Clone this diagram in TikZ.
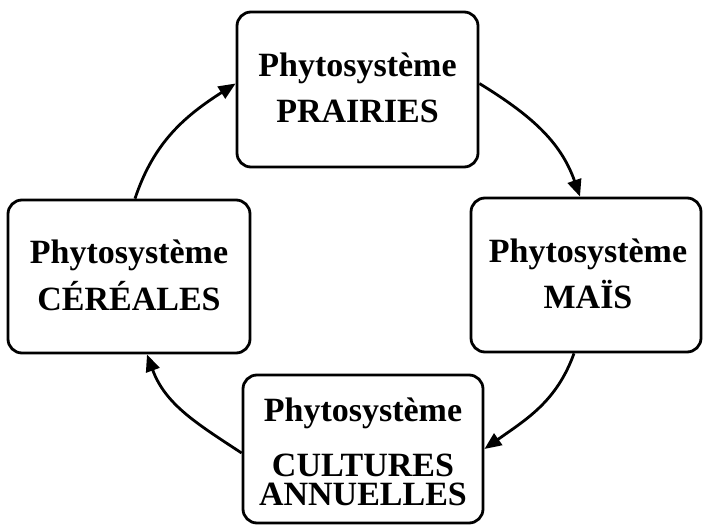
\documentclass[tikz,border=0pt]{standalone}
\usepackage{fontspec}
\setmainfont{Liberation Serif}
\usetikzlibrary{arrows.meta}
\begin{document}
\begin{tikzpicture}[
  box/.style={draw, line width=2.8pt, rounded corners=14pt, inner sep=0pt},
  lbl/.style={anchor=base, inner sep=0pt, font=\fontsize{34}{40}\selectfont\bfseries},
  flow/.style={line width=2.8pt, -{Triangle[length=17pt,width=14pt]}}]
\useasboundingbox (0pt,0pt) rectangle (703pt,-526pt);
% boxes
\node[box, minimum width=241pt, minimum height=155pt] (top) at (357.5pt,-89.5pt) {};
\node[box, minimum width=230pt, minimum height=154pt] (right) at (586pt,-275pt) {};
\node[box, minimum width=240pt, minimum height=148pt] (bottom) at (363pt,-449pt) {};
\node[box, minimum width=242pt, minimum height=153pt] (left) at (129pt,-276.5pt) {};
% texts
\node[lbl] (topa) at (357.5pt,-77pt) {Phytosystème};
\node[lbl] (topb) at (357.5pt,-123pt) {PRAIRIES};
\node[lbl] (righta) at (588pt,-262pt) {Phytosystème};
\node[lbl] (rightb) at (588pt,-308pt) {MAÏS};
\node[lbl] (lefta) at (129pt,-264pt) {Phytosystème};
\node[lbl] (leftb) at (129pt,-310pt) {CÉRÉALES};
\node[lbl] (bottoma) at (363pt,-421pt) {Phytosystème};
\node[lbl] (bottomb) at (363pt,-476pt) {CULTURES};
\node[lbl] (bottomc) at (363pt,-505pt) {ANNUELLES};
% connectors
\draw[flow] ([yshift=6pt]top.east) to[out=-31.6, in=109.3] ([xshift=-6pt]right.north);
\draw[flow] ([xshift=-12pt]right.south) to[out=-109.8, in=35.3] (bottom.east);
\draw[flow] ([yshift=-4pt]bottom.west) to[out=146.7, in=-69.9] ([xshift=18pt]left.south);
\draw[flow] ([xshift=6pt]left.north) to[out=71.6, in=-147.3] ([yshift=6pt]top.west);
\end{tikzpicture}
\end{document}
